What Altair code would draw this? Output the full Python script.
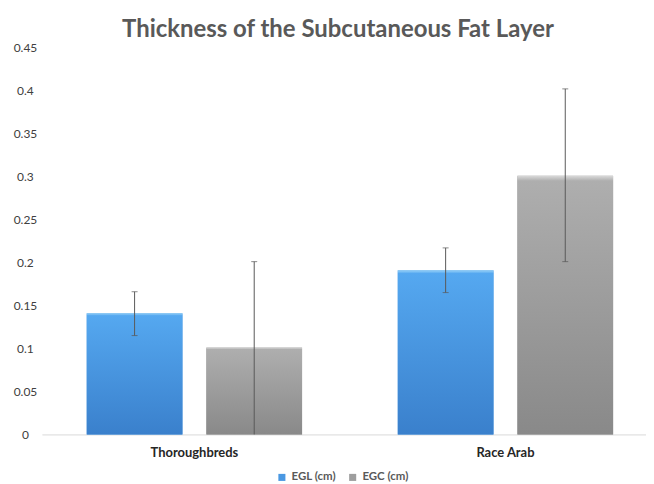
import altair as alt
import pandas as pd

groups = ["Thoroughbreds", "Race Arab"]
series = ["EGL (cm)", "EGC (cm)"]
egl_values = [0.141, 0.191]
egc_values = [0.101, 0.301]
egl_low = [0.115, 0.165]
egl_high = [0.166, 0.217]
egc_low = [0.0, 0.201]
egc_high = [0.201, 0.402]
y_ticks = [0, 0.05, 0.1, 0.15, 0.2, 0.25, 0.3, 0.35, 0.4, 0.45]

rows = []
for i, g in enumerate(groups):
    rows.append({"group": g, "series": series[0], "value": egl_values[i], "low": egl_low[i], "high": egl_high[i]})
    rows.append({"group": g, "series": series[1], "value": egc_values[i], "low": egc_low[i], "high": egc_high[i]})
df = pd.DataFrame(rows)

FONT = "Lato"

x_enc = alt.X(
    "group:N", sort=groups, title=None,
    scale=alt.Scale(paddingInner=0.2308, paddingOuter=0.0865, align=0.611),
    axis=alt.Axis(labelAngle=0, ticks=False, domainColor="#D9D9D9", domainWidth=1,
                  labelFont=FONT, labelFontWeight="bold", labelFontSize=13,
                  labelColor="#262626", labelPadding=12),
)
xo_enc = alt.XOffset("series:N", sort=series, scale=alt.Scale(paddingInner=0.2, paddingOuter=0.1))
y_scale = alt.Scale(domain=[0, 0.45], nice=False)
y_enc = alt.Y(
    "value:Q", scale=y_scale, title=None,
    axis=alt.Axis(values=y_ticks, grid=False, domain=False, ticks=False, format=".2~f",
                  labelFont=FONT, labelFontSize=12, labelColor="#404040",
                  labelAlign="center", labelPadding=17, labelBaseline="middle"),
)

base = alt.Chart(df)

bars = base.mark_bar().encode(
    x=x_enc, xOffset=xo_enc, y=y_enc,
    color=alt.Color("series:N", sort=series,
                    scale=alt.Scale(domain=series, range=["#4A98E2", "#9E9E9E"]),
                    legend=alt.Legend(title=None, orient="none", direction="horizontal",
                                      legendX=235, legendY=425,
                                      symbolType="square", symbolSize=50,
                                      labelFont=FONT, labelFontWeight=700, labelFontSize=11.5,
                                      labelColor="#595959", columnPadding=10, labelOffset=4,
                                      symbolStrokeWidth=0)),
)

blue_grad = alt.Gradient(gradient="linear", x1=0, x2=0, y1=0, y2=1, stops=[
    alt.GradientStop(color="#9AD3F8", offset=0),
    alt.GradientStop(color="#55A8F0", offset=0.02),
    alt.GradientStop(color="#3A80CC", offset=1),
])
gray_grad = alt.Gradient(gradient="linear", x1=0, x2=0, y1=0, y2=1, stops=[
    alt.GradientStop(color="#DADADA", offset=0),
    alt.GradientStop(color="#AEAEAE", offset=0.02),
    alt.GradientStop(color="#898989", offset=1),
])

blue_bars = base.transform_filter(alt.datum.series == series[0]).mark_bar(fill=blue_grad).encode(
    x=x_enc, xOffset=xo_enc, y=alt.Y("value:Q", scale=y_scale))
gray_bars = base.transform_filter(alt.datum.series == series[1]).mark_bar(fill=gray_grad).encode(
    x=x_enc, xOffset=xo_enc, y=alt.Y("value:Q", scale=y_scale))

err = base.mark_rule(color="#595959", strokeWidth=1).encode(
    x=x_enc, xOffset=xo_enc, y=alt.Y("low:Q", scale=y_scale), y2="high:Q")
cap_hi = base.mark_tick(color="#595959", orient="horizontal", size=6, thickness=1).encode(
    x=x_enc, xOffset=xo_enc, y=alt.Y("high:Q", scale=y_scale))
cap_lo = base.transform_filter(alt.datum.low > 0).mark_tick(
    color="#595959", orient="horizontal", size=6, thickness=1).encode(
    x=x_enc, xOffset=xo_enc, y=alt.Y("low:Q", scale=y_scale))

chart = alt.layer(bars, blue_bars, gray_bars, err, cap_hi, cap_lo).properties(
    width=606, height=388,
    title=alt.TitleParams("Thickness of the Subcutaneous Fat Layer", font=FONT, fontSize=24,
                          fontWeight="bold", color="#595959", anchor="middle", offset=0, dx=-6),
    autosize=alt.AutoSizeParams(type="none"),
    padding={"left": 34, "top": 39, "right": 0, "bottom": 49},
).configure_view(stroke=None)

chart.save("out.html", embed_options={"renderer": "svg", "actions": False})
